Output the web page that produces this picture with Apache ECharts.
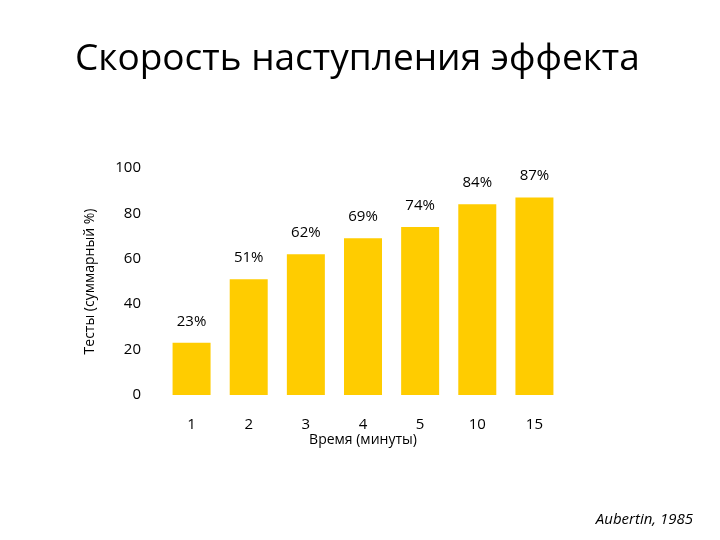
<!DOCTYPE html>
<html><head><meta charset="utf-8">
<script src="https://cdn.jsdelivr.net/npm/echarts@6/dist/echarts.min.js"></script>
<style>html,body{margin:0;padding:0;background:#fff}#c{width:720px;height:540px}</style>
</head><body><div id="c"></div>
<script>
var categories = ['1','2','3','4','5','10','15'];
var values = [23, 51, 62, 69, 74, 84, 87];
var yTicks = [0, 20, 40, 60, 80, 100];
var titleText = 'Скорость наступления эффекта';
var xName = 'Время (минуты)';
var yName = 'Тесты (суммарный %)';
var source = 'Aubertin, 1985';

var chart = echarts.init(document.getElementById('c'));
var font = 'Open Sans';
chart.setOption({
  backgroundColor: '#fff',
  title: [{text: titleText, left: 70, top: 36,
    textStyle: {fontFamily: font, fontSize: 37, fontWeight: 'normal', color: '#000'}},
    {text: source, right: 22, bottom: 8,
    textStyle: {fontFamily: font, fontSize: 15, fontStyle: 'italic', fontWeight: 'normal', color: '#000'}}],
  grid: {left: 163, right: 157, top: 168, bottom: 145},
  xAxis: {type: 'category', data: categories, name: xName, nameLocation: 'middle', nameGap: 20,
    nameTextStyle: {fontFamily: font, fontSize: 14, color: '#000'},
    axisLine: {show: false}, axisTick: {show: false},
    axisLabel: {fontFamily: font, fontSize: 15, color: '#000', margin: 22}},
  yAxis: {type: 'value', min: 0, max: 100, interval: 20,
    name: yName, nameLocation: 'middle', nameGap: 66, nameRotate: 90,
    nameTextStyle: {fontFamily: font, fontSize: 14, color: '#000'},
    axisLine: {show: false}, axisTick: {show: false}, splitLine: {show: false},
    axisLabel: {fontFamily: font, fontSize: 15, color: '#000', margin: 22}},
  series: [{type: 'bar', data: values, barWidth: 38,
    itemStyle: {color: '#FFCC00'},
    label: {show: true, position: 'top', distance: 14, formatter: '{c}%',
      fontFamily: font, fontSize: 15, color: '#000'}}]
});
</script></body></html>
